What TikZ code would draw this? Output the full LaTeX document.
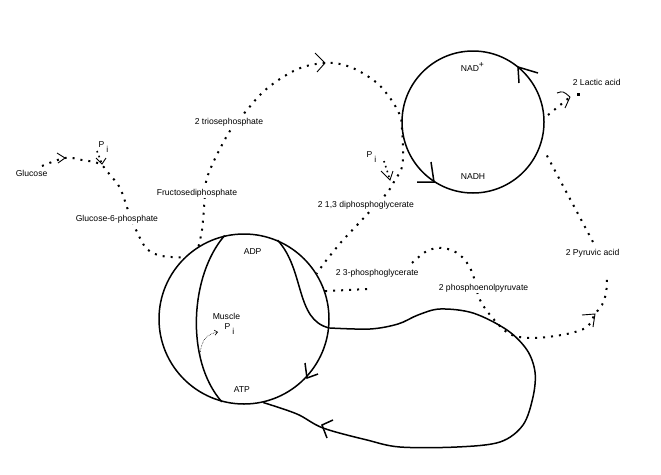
\documentclass[tikz,border=0pt]{standalone}
\usepackage{fontspec}
\setmainfont{Liberation Sans}
\usetikzlibrary{arrows.meta}
\pgfdeclarelayer{bg}
\pgfsetlayers{bg,main}
\begin{document}
\begin{tikzpicture}[x=1pt,y=-1pt,
  lbl/.style={anchor=west, inner sep=0.6pt, fill=white, font=\fontsize{8.6}{10}\selectfont},
  pilbl/.style={anchor=base west, inner sep=0.4pt, font=\fontsize{8.6}{10}\selectfont},
  solidln/.style={line width=1.5pt, line join=round},
  dotln/.style={line width=2pt, dash pattern=on 2pt off 6pt},
  smalldot/.style={line width=1.6pt, dash pattern=on 1.6pt off 3.5pt},
  barb/.style={line width=0.9pt},
  sbarb/.style={line width=1.5pt},
  ring/.style={circle, draw, line width=1.5pt, inner sep=0pt}]
\useasboundingbox (0,0) rectangle (661,474);

% rings
\node[ring, minimum size=170pt] (musc) at (244,319) {};
\node[ring, minimum size=142pt] (nad) at (473,122) {};

% labels
\node[lbl] (glc) at (15,173) {Glucose};
\node[lbl] (g6p) at (75,219) {Glucose-6-phosphate};
\node[lbl] (fdp) at (156,193) {Fructosediphosphate};
\node[lbl] (tri) at (194,122) {2 triosephosphate};
\node[lbl] (dpg) at (317,205) {2 1,3 diphosphoglycerate};
\node[lbl] (pg3) at (335,273) {2 3-phosphoglycerate};
\node[lbl] (pep) at (438,288) {2 phosphoenolpyruvate};
\node[lbl] (pyr) at (565,253) {2 Pyruvic acid};
\node[lbl] (lac) at (572,82) {2 Lactic acid};
\node[lbl] (nadp) at (460,67) {NAD\raisebox{4pt}{+}};
\node[lbl] (nadh) at (460,177) {NADH};
\node[lbl] (adp) at (243,252) {ADP};
\node[lbl] (atp) at (233,390) {ATP};
\node[lbl] (musl) at (212,316.5) {Muscle};
\node[pilbl] (pia) at (98,147.5) {P\hspace{2pt}\raisebox{-5pt}{i}};
\node[pilbl] (pib) at (366,157) {P\hspace{2pt}\raisebox{-5pt}{i}};
\node[pilbl] (pic) at (224,329) {P\hspace{2pt}\raisebox{-5pt}{i}};

% named points
\coordinate (glcstart) at (42,166);
\coordinate (tipglc) at (65,158);
\coordinate (tiptri) at (325,63);
\coordinate (stemA) at (97,151);
\coordinate (tippia) at (102,164);
\coordinate (stemB) at (384,161);
\coordinate (tippib) at (390,180);
\coordinate (pgA) at (368,289);
\coordinate (pgB) at (412,263);
\coordinate (tippyr) at (595,314);
\coordinate (pyrtop) at (593,242);
\coordinate (pyrbot) at (607,279);
\coordinate (nadout) at (545,152);
\coordinate (lacin) at (548,115);
\coordinate (tiplac) at (570,97);
\coordinate (picstart) at (200,355);

\begin{pgfonlayer}{bg}
\fill[white] (0,0) rectangle (661,474);
% glucose -> glucose-6-phosphate -> muscle ring (ATP used)
\draw[dotln] plot[smooth, tension=0.6] coordinates {(glcstart) (tipglc) (82,160) (100,164) (110,175) (120,188) (128,210) (137,232) (147,249) (162,256) (musc.134)};
% fructosediphosphate -> triosephosphate -> NAD ring
\draw[dotln] plot[smooth, tension=0.6] coordinates {(musc.122) (202,230) (204,208) (206,182) (213,163) (223,143) (232,128) (247,110) (263,92) (283,77) (303,67) (tiptri) (340,64) (357,70) (377,83) (390,98) (398,111) (nad.178)};
% NAD ring -> 1,3 diphosphoglycerate -> muscle ring
\draw[dotln] plot[smooth, tension=0.6] coordinates {(nad.178) (403,147) (402,167) (395,180) (387,193) (373,208) (360,222) (343,240) (333,252) (325,262) (musc.32)};
% 3-phosphoglycerate
\draw[dotln] (musc.19) -- (pgA);
\draw[dotln] plot[smooth, tension=0.6] coordinates {(pgB) (427,251) (443,248) (460,255) (472,272) (480,300) (497,323) (512,335) (532,338) (555,336) (575,332) (588,326) (tippyr) (602,305) (606,293) (pyrbot)};
% pyruvic acid -> NAD ring
\draw[dotln] (pyrtop) -- (nadout);
% NAD ring -> lactic acid
\draw[dotln] (lacin) -- (tiplac);
% Pi arrows (stems)
\draw[smalldot] (stemA) -- (tippia);
\draw[smalldot] (stemB) -- (tippib);
\end{pgfonlayer}

% solid curves in the muscle ring
\draw[solidln] (musc.103) .. controls (190,275) and (185,360) .. (musc.255);
\draw[solidln] (musc.67) .. controls (305,270) and (295,320) .. (musc.-6);
\draw[solidln] plot[smooth, tension=0.55] coordinates {(musc.-6) (370,329) (398,324) (418,315) (440,309) (473,313) (507,330) (527,350) (535,372) (533,397) (523,425) (500,442) (457,447) (400,447) (367,440) (323,428) (297,414) (musc.283)};

% solid arrowheads
\coordinate (tipm1) at (307,378);
\coordinate (tipm2) at (322,425);
\coordinate (tipn1) at (518,67);
\coordinate (tipn2) at (434,182);
\draw[sbarb] (tipm1) ++(-2,-15) -- (tipm1) -- ++(11,-4);
\draw[sbarb] (tipm2) ++(11,-5) -- (tipm2) -- ++(5,13);
\draw[sbarb] (tipn1) ++(1,16) -- (tipn1) -- ++(20,6);
\draw[sbarb] (tipn2) ++(-3,-20) -- (tipn2) -- ++(-17,0);

% thin arrowheads on dotted paths
\draw[barb] (tipglc) ++(-8,-5) -- (tipglc) -- ++(-7,5);
\draw[barb] (tiptri) ++(-10,-10) -- (tiptri) -- ++(-8,9);
\draw[barb] (tippia) ++(-6,-6) -- (tippia) -- ++(4,-6);
\draw[barb] (tippib) ++(-9,-9) -- (tippib) -- ++(3,-9);
\draw[barb] (tippyr) ++(-13,1) -- (tippyr) -- ++(-2,13);
\draw[barb] (557,93) .. controls (563,91) .. (tiplac);
\draw[barb] (565,108) .. controls (568,103) .. (tiplac);
\fill (577,93) rectangle (579.5,95.5);

% muscle Pi arrow
\draw[line width=0.6pt, densely dotted, -{Straight Barb[length=3pt,width=5pt]}] (picstart) .. controls (201,340) and (207,334) .. (218,332);
\end{tikzpicture}
\end{document}
